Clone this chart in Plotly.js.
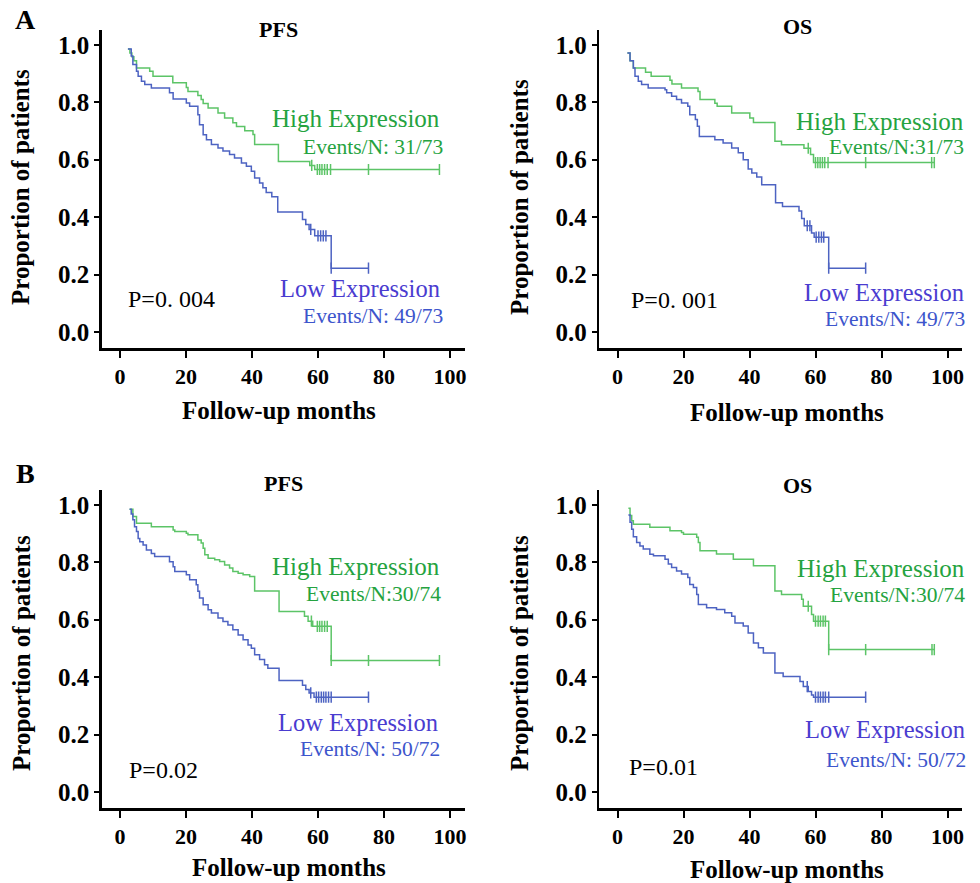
<!DOCTYPE html>
<html>
<head>
<meta charset="utf-8">
<script src="https://cdn.plot.ly/plotly-3.0.1.min.js"></script>
<style>html,body{margin:0;padding:0;background:#fff;}#chart{width:980px;height:883px;}</style>
</head>
<body>
<div id="chart"></div>
<script>
// ---------- DATA ----------
const xTicks = [0, 20, 40, 60, 80, 100];
const yTicks = [0.0, 0.2, 0.4, 0.6, 0.8, 1.0];
const panelLetters = ["A", "B"];
const panelTitles = ["PFS", "OS", "PFS", "OS"];
const pValues = ["P=0. 004", "P=0. 001", "P=0.02", "P=0.01"];
const highLabels = ["Events/N: 31/73", "Events/N:31/73", "Events/N:30/74", "Events/N:30/74"];
const lowLabels = ["Events/N: 49/73", "Events/N: 49/73", "Events/N: 50/72", "Events/N: 50/72"];

// Panel A - PFS
const aPfsHighT = [2.4, 3.0, 3.6, 4.2, 5.0, 9.0, 10.0, 16.0, 20.1, 20.6, 23.6, 24.6, 25.2, 26.7, 29.7, 31.7, 34.2, 35.3, 37.8, 40.3, 40.8, 48.0, 57.5, 59.0];
const aPfsHighS = [0.986, 0.972, 0.959, 0.945, 0.920, 0.908, 0.891, 0.868, 0.852, 0.838, 0.824, 0.810, 0.796, 0.780, 0.763, 0.745, 0.729, 0.716, 0.701, 0.688, 0.653, 0.594, 0.580, 0.566];
const aPfsHighCens = [58.1, 59.8, 60.5, 61.2, 62.0, 62.8, 63.8, 75.3, 96.8];
const aPfsLowT = [2.4, 3.4, 3.9, 5.0, 5.5, 6.5, 7.5, 9.5, 15.0, 16.1, 20.1, 21.1, 23.6, 24.1, 25.2, 26.2, 27.7, 29.7, 31.2, 33.2, 34.7, 36.8, 38.3, 39.8, 40.8, 42.3, 43.3, 44.3, 46.0, 47.8, 55.3, 56.3, 57.3, 59.0, 64.0];
const aPfsLowS = [0.986, 0.961, 0.932, 0.908, 0.891, 0.873, 0.862, 0.850, 0.833, 0.812, 0.798, 0.786, 0.757, 0.722, 0.687, 0.670, 0.653, 0.641, 0.630, 0.618, 0.606, 0.589, 0.577, 0.560, 0.536, 0.519, 0.502, 0.486, 0.471, 0.418, 0.392, 0.374, 0.357, 0.335, 0.222];
const aPfsLowCens = [57.8, 60.0, 60.8, 61.6, 62.4, 64.0, 75.3];

// Panel A - OS
const aOsHighT = [3.0, 3.8, 4.8, 8.5, 10.2, 15.9, 16.5, 19.4, 24.4, 25.0, 29.5, 30.2, 34.6, 40.1, 41.2, 47.7, 49.7, 56.5, 58.5, 59.4];
const aOsHighS = [0.972, 0.945, 0.920, 0.905, 0.891, 0.877, 0.864, 0.850, 0.838, 0.810, 0.797, 0.786, 0.763, 0.745, 0.730, 0.664, 0.652, 0.640, 0.618, 0.590];
const aOsHighCens = [57.8, 60.0, 60.7, 61.4, 62.1, 62.8, 63.8, 75.2, 95.2, 96.0];
const aOsLowT = [3.0, 3.8, 4.8, 5.3, 6.3, 7.3, 9.3, 14.4, 14.9, 16.4, 17.9, 19.4, 21.3, 21.9, 23.6, 24.2, 24.8, 29.5, 32.0, 34.6, 36.6, 38.1, 39.6, 40.7, 42.2, 43.7, 47.9, 50.0, 55.0, 55.8, 56.6, 58.8, 59.6, 64.0];
const aOsLowS = [0.972, 0.945, 0.920, 0.891, 0.873, 0.862, 0.850, 0.844, 0.833, 0.821, 0.810, 0.798, 0.786, 0.757, 0.740, 0.717, 0.681, 0.670, 0.658, 0.641, 0.624, 0.600, 0.568, 0.554, 0.540, 0.513, 0.450, 0.437, 0.421, 0.395, 0.370, 0.345, 0.330, 0.222];
const aOsLowCens = [57.5, 58.3, 60.2, 61.0, 61.8, 62.5, 64.0, 75.2];

// Panel B - PFS
const bPfsHighT = [2.9, 3.9, 5.0, 9.5, 16.1, 16.6, 20.1, 20.6, 23.6, 24.6, 25.2, 25.7, 26.7, 28.7, 30.2, 31.7, 33.2, 34.2, 35.8, 37.3, 39.3, 40.8, 48.2, 55.9, 57.0, 58.4, 64.0];
const bPfsHighS = [0.985, 0.960, 0.936, 0.924, 0.913, 0.907, 0.901, 0.896, 0.878, 0.867, 0.849, 0.826, 0.814, 0.809, 0.803, 0.791, 0.780, 0.768, 0.762, 0.757, 0.751, 0.700, 0.629, 0.612, 0.595, 0.577, 0.458];
const bPfsHighCens = [58.0, 59.8, 60.5, 61.2, 62.0, 62.8, 64.0, 75.3, 96.8];
const bPfsLowT = [2.9, 3.4, 3.9, 4.4, 5.0, 5.5, 6.0, 7.0, 8.0, 9.5, 10.5, 15.0, 16.1, 16.6, 20.1, 21.1, 23.1, 23.6, 24.1, 25.2, 26.7, 27.7, 29.7, 31.2, 32.7, 34.2, 35.8, 37.3, 38.8, 39.8, 40.8, 42.3, 43.8, 44.8, 48.2, 55.3, 56.3, 57.3, 58.8];
const bPfsLowS = [0.985, 0.968, 0.948, 0.924, 0.907, 0.883, 0.872, 0.860, 0.843, 0.831, 0.820, 0.802, 0.785, 0.768, 0.757, 0.739, 0.722, 0.699, 0.676, 0.652, 0.635, 0.623, 0.606, 0.594, 0.582, 0.565, 0.547, 0.530, 0.512, 0.501, 0.478, 0.461, 0.443, 0.431, 0.388, 0.372, 0.357, 0.345, 0.330];
const bPfsLowCens = [57.8, 59.5, 60.2, 61.0, 61.7, 62.4, 63.2, 64.0, 75.3];

// Panel B - OS
const bOsHighT = [3.3, 3.8, 4.3, 4.8, 9.8, 15.9, 19.4, 20.0, 24.0, 24.5, 25.0, 30.0, 35.1, 41.2, 47.7, 49.7, 55.8, 56.3, 58.8, 59.4, 64.0];
const bOsHighS = [0.988, 0.963, 0.945, 0.933, 0.922, 0.910, 0.904, 0.898, 0.887, 0.869, 0.840, 0.829, 0.811, 0.788, 0.700, 0.688, 0.671, 0.647, 0.618, 0.595, 0.496];
const bOsHighCens = [57.8, 60.0, 60.8, 61.5, 62.3, 63.0, 64.0, 75.2, 95.3, 96.0];
const bOsLowT = [3.3, 3.8, 4.3, 4.8, 5.8, 6.8, 7.8, 9.8, 10.9, 14.4, 15.4, 16.4, 17.9, 19.4, 21.3, 21.9, 23.0, 24.0, 24.5, 27.0, 30.0, 32.5, 34.6, 35.6, 38.1, 39.6, 41.2, 42.7, 44.2, 47.7, 50.2, 55.3, 56.3, 57.8, 58.8, 59.4];
const bOsLowS = [0.965, 0.940, 0.915, 0.889, 0.869, 0.857, 0.846, 0.828, 0.823, 0.811, 0.794, 0.782, 0.770, 0.759, 0.747, 0.723, 0.712, 0.688, 0.653, 0.642, 0.636, 0.624, 0.612, 0.589, 0.578, 0.554, 0.519, 0.502, 0.484, 0.414, 0.402, 0.385, 0.367, 0.350, 0.338, 0.330];
const bOsLowCens = [57.5, 60.0, 60.8, 61.5, 62.3, 63.0, 64.0, 75.2];

// ---------- STYLE ----------
const W = 980, H = 883;
const GREEN_LINE = "#5cc467", BLUE_LINE = "#4d63c2";
const GREEN_TEXT = "#25a340", BLUE_TEXT = "#4a3cd0", BLUE_TEXT2 = "#3d55cc";
const SERIF = "Liberation Serif, Times New Roman, serif";

const curves = [
  [aPfsHighT, aPfsHighS, aPfsHighCens, aPfsLowT, aPfsLowS, aPfsLowCens],
  [aOsHighT, aOsHighS, aOsHighCens, aOsLowT, aOsLowS, aOsLowCens],
  [bPfsHighT, bPfsHighS, bPfsHighCens, bPfsLowT, bPfsLowS, bPfsLowCens],
  [bOsHighT, bOsHighS, bOsHighCens, bOsLowT, bOsLowS, bOsLowCens]
];

// pixel boxes of plot areas (left, right, top, bottom)
const boxes = [
  [101.85, 464.85, 30, 348],
  [599.35, 962.35, 30, 348],
  [101.85, 464.85, 490, 808],
  [599.35, 962.35, 490, 808]
];

function survAt(t, T, S) {
  let v = 1;
  for (let i = 0; i < T.length; i++) { if (T[i] <= t) v = S[i]; }
  return v;
}
const px = x => x / W;
const py = y => 1 - y / H;

const traces = [];
const layout = {
  width: W, height: H,
  margin: {l: 0, r: 0, t: 0, b: 0},
  paper_bgcolor: "#fff", plot_bgcolor: "#fff",
  showlegend: false,
  annotations: []
};

curves.forEach((c, i) => {
  const n = i + 1;
  const xa = "x" + (n === 1 ? "" : n), ya = "y" + (n === 1 ? "" : n);
  const [HT, HS, HC, LT, LS, LC] = c;
  const groups = [[HT, HS, HC, GREEN_LINE], [LT, LS, LC, BLUE_LINE]];
  groups.forEach(g => {
    const [T, S, C, col] = g;
    const end = C[C.length - 1];
    traces.push({
      x: T.concat([end]), y: S.concat([S[S.length - 1]]),
      xaxis: xa, yaxis: ya, type: "scatter", mode: "lines",
      line: {color: col, width: 1.5, shape: "hv"}, hoverinfo: "skip"
    });
    traces.push({
      x: C, y: C.map(t => survAt(t, T, S)),
      xaxis: xa, yaxis: ya, type: "scatter", mode: "markers",
      marker: {symbol: "line-ns", size: 8, line: {color: col, width: 1.5}, color: col},
      hoverinfo: "skip"
    });
  });
  const b = boxes[i];
  const axBase = {
    showgrid: false, zeroline: false, showline: true, linecolor: "#000", linewidth: 2.5,
    ticks: "outside", ticklen: 7, tickwidth: 2, tickcolor: "#000",
    tickfont: {family: SERIF, size: 22, color: "#000", weight: "bold"}, fixedrange: true
  };
  layout["xaxis" + (n === 1 ? "" : n)] = Object.assign({}, axBase, {
    domain: [px(b[0]), px(b[1])], range: [-5.5, 104.5], tickvals: xTicks,
    ticktext: xTicks.map(String), anchor: ya
  });
  layout["yaxis" + (n === 1 ? "" : n)] = Object.assign({}, axBase, {
    domain: [py(b[3]), py(b[2])], range: [-0.056, 1.052], tickvals: yTicks,
    ticktext: yTicks.map(v => v.toFixed(1)), anchor: xa, ticklen: 5,
    tickfont: {family: SERIF, size: 25, color: "#000", weight: "bold"}
  });
});

function ann(text, x, y, opts) {
  layout.annotations.push(Object.assign({
    text: text, x: px(x), y: py(y), xref: "paper", yref: "paper",
    showarrow: false, xanchor: "center", yanchor: "middle",
    font: {family: SERIF, size: 20, color: "#000"}
  }, opts || {}));
}

// panel letters
ann(panelLetters[0], 25, 20, {font: {family: SERIF, size: 28, color: "#000", weight: "bold"}});
ann(panelLetters[1], 25, 473, {font: {family: SERIF, size: 28, color: "#000", weight: "bold"}});

// titles
const titlePos = [[278, 30], [797, 27], [283, 483], [797, 485]];
panelTitles.forEach((t, i) => ann(t, titlePos[i][0], titlePos[i][1], {font: {family: SERIF, size: 22, color: "#000", weight: "bold"}}));

// axis titles
const yTitlePos = [[20, 187], [519, 197], [21, 653], [519, 653]];
const xTitlePos = [[279, 410], [787, 412], [289, 867], [787, 869]];
for (let i = 0; i < 4; i++) {
  ann("Proportion of patients", yTitlePos[i][0], yTitlePos[i][1], {textangle: -90, font: {family: SERIF, size: 25, color: "#000", weight: "bold"}});
  ann("Follow-up months", xTitlePos[i][0], xTitlePos[i][1], {font: {family: SERIF, size: 25, color: "#000", weight: "bold"}});
}

// legend-like labels and p values
const hiPos = [[442, 119, 445, 147], [966, 121, 966, 147], [442, 566, 443, 594], [967, 568, 967, 595]];
const loPos = [[442, 289, 445, 316], [966, 292, 967, 319], [440, 722, 442, 749], [967, 729, 968, 760]];
const pPos = [[171, 299], [674, 300], [163, 770], [663, 767]];
for (let i = 0; i < 4; i++) {
  ann("High Expression", hiPos[i][0], hiPos[i][1], {xanchor: "right", font: {family: SERIF, size: 25, color: GREEN_TEXT}});
  ann(highLabels[i], hiPos[i][2], hiPos[i][3], {xanchor: "right", font: {family: SERIF, size: 21.5, color: GREEN_TEXT}});
  ann("Low Expression", loPos[i][0], loPos[i][1], {xanchor: "right", font: {family: SERIF, size: 24.5, color: BLUE_TEXT}});
  ann(lowLabels[i], loPos[i][2], loPos[i][3], {xanchor: "right", font: {family: SERIF, size: 21.5, color: BLUE_TEXT2}});
  ann(pValues[i], pPos[i][0], pPos[i][1], {font: {family: SERIF, size: 24, color: "#000"}});
}

Plotly.newPlot("chart", traces, layout, {staticPlot: true, displayModeBar: false});
</script>
</body>
</html>
